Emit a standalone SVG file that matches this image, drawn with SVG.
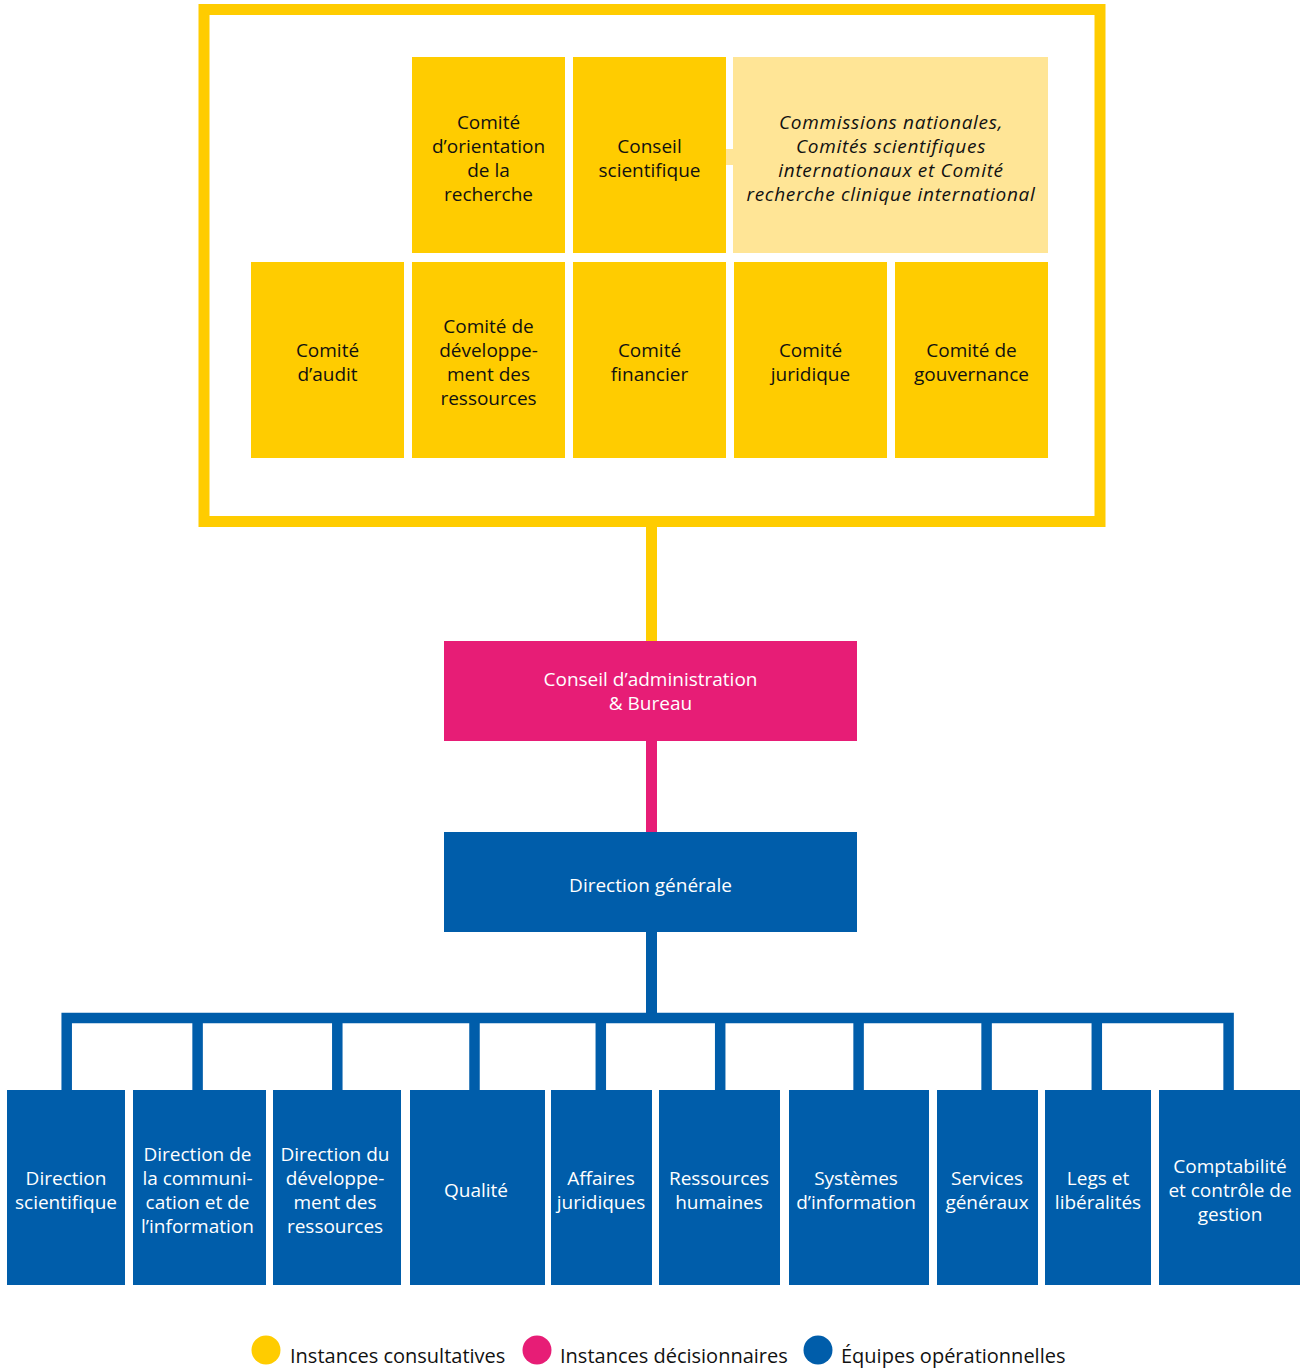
<svg xmlns="http://www.w3.org/2000/svg" width="1302" height="1368" viewBox="0 0 1302 1368">
<style>
text{font-family:"Open Sans","Noto Sans","Liberation Sans",sans-serif;font-size:19px;text-anchor:middle}
.y{fill:#FFCC00}
.ly{fill:#FFE596}
.pk{fill:#E71D76}
.bl{fill:#005DAA}
.dk{fill:#111111}
.wt{fill:#FFFFFF}
.it{font-style:italic;letter-spacing:0.7px}
.ln{fill:none;stroke-linecap:butt;stroke-linejoin:miter}
.lg{text-anchor:start;font-size:20px}
</style>
<rect width="1302" height="1368" fill="#FFFFFF"/>
<g id="connectors">
<rect x="204" y="9.5" width="896" height="512" fill="none" stroke="#FFCC00" stroke-width="11"/>
<rect x="726" y="149" width="8" height="16" class="ly"/>
<path class="ln" d="M651.5 527V641" stroke="#FFCC00" stroke-width="11"/>
<path class="ln" d="M651.5 741V832" stroke="#E71D76" stroke-width="11"/>
<path class="ln" d="M651.5 932V1018" stroke="#005DAA" stroke-width="11"/>
<path class="ln" d="M66.7 1090V1018H1228.6V1090" stroke="#005DAA" stroke-width="10.5"/>
<path class="ln" d="M197.6 1018V1090M337.3 1018V1090M474.5 1018V1090M600.8 1018V1090M720.2 1018V1090M858.6 1018V1090M986.6 1018V1090M1096.8 1018V1090" stroke="#005DAA" stroke-width="10.5"/>
</g>
<g id="n-orientation"><rect x="412" y="57" width="153" height="196" class="y"/><text class="dk"><tspan x="488.5" y="128.5">Comité</tspan><tspan x="488.5" y="152.5">d’orientation</tspan><tspan x="488.5" y="176.5">de la</tspan><tspan x="488.5" y="200.5">recherche</tspan></text></g>
<g id="n-conseil-scientifique"><rect x="573" y="57" width="153" height="196" class="y"/><text class="dk"><tspan x="649.5" y="152.5">Conseil</tspan><tspan x="649.5" y="176.5">scientifique</tspan></text></g>
<g id="n-commissions"><rect x="733" y="57" width="315" height="196" class="ly"/><text class="dk it"><tspan x="891" y="128.5">Commissions nationales,</tspan><tspan x="891" y="152.5">Comités scientifiques</tspan><tspan x="891" y="176.5">internationaux et Comité</tspan><tspan x="891" y="200.5">recherche clinique international</tspan></text></g>
<g id="n-audit"><rect x="251" y="262" width="153" height="196" class="y"/><text class="dk"><tspan x="327.5" y="356.5">Comité</tspan><tspan x="327.5" y="380.5">d’audit</tspan></text></g>
<g id="n-developpement"><rect x="412" y="262" width="153" height="196" class="y"/><text class="dk"><tspan x="488.5" y="332.5">Comité de</tspan><tspan x="488.5" y="356.5">développe-</tspan><tspan x="488.5" y="380.5">ment des</tspan><tspan x="488.5" y="404.5">ressources</tspan></text></g>
<g id="n-financier"><rect x="573" y="262" width="153" height="196" class="y"/><text class="dk"><tspan x="649.5" y="356.5">Comité</tspan><tspan x="649.5" y="380.5">financier</tspan></text></g>
<g id="n-juridique"><rect x="734" y="262" width="153" height="196" class="y"/><text class="dk"><tspan x="810.5" y="356.5">Comité</tspan><tspan x="810.5" y="380.5">juridique</tspan></text></g>
<g id="n-gouvernance"><rect x="895" y="262" width="153" height="196" class="y"/><text class="dk"><tspan x="971.5" y="356.5">Comité de</tspan><tspan x="971.5" y="380.5">gouvernance</tspan></text></g>
<g id="n-ca"><rect x="444" y="641" width="413" height="100" class="pk"/><text class="wt"><tspan x="650.5" y="686">Conseil d’administration</tspan><tspan x="650.5" y="710">&amp; Bureau</tspan></text></g>
<g id="n-dg"><rect x="444" y="832" width="413" height="100" class="bl"/><text class="wt"><tspan x="650.5" y="891.5">Direction générale</tspan></text></g>
<g id="n-dir-sci"><rect x="7" y="1090" width="118" height="195" class="bl"/><text class="wt"><tspan x="66" y="1184.5">Direction</tspan><tspan x="66" y="1208.5">scientifique</tspan></text></g>
<g id="n-dir-com"><rect x="133" y="1090" width="133" height="195" class="bl"/><text class="wt"><tspan x="197.5" y="1160.5">Direction de</tspan><tspan x="197.5" y="1184.5">la communi-</tspan><tspan x="197.5" y="1208.5">cation et de</tspan><tspan x="197.5" y="1232.5">l’information</tspan></text></g>
<g id="n-dir-dev"><rect x="273" y="1090" width="128" height="195" class="bl"/><text class="wt"><tspan x="335" y="1160.5">Direction du</tspan><tspan x="335" y="1184.5">développe-</tspan><tspan x="335" y="1208.5">ment des</tspan><tspan x="335" y="1232.5">ressources</tspan></text></g>
<g id="n-qualite"><rect x="410" y="1090" width="135" height="195" class="bl"/><text class="wt"><tspan x="476" y="1196.5">Qualité</tspan></text></g>
<g id="n-affaires"><rect x="551" y="1090" width="101" height="195" class="bl"/><text class="wt"><tspan x="601" y="1184.5">Affaires</tspan><tspan x="601" y="1208.5">juridiques</tspan></text></g>
<g id="n-rh"><rect x="659" y="1090" width="121" height="195" class="bl"/><text class="wt"><tspan x="719" y="1184.5">Ressources</tspan><tspan x="719" y="1208.5">humaines</tspan></text></g>
<g id="n-si"><rect x="789" y="1090" width="140" height="195" class="bl"/><text class="wt"><tspan x="856" y="1184.5">Systèmes</tspan><tspan x="856" y="1208.5">d’information</tspan></text></g>
<g id="n-sg"><rect x="937" y="1090" width="101" height="195" class="bl"/><text class="wt"><tspan x="987" y="1184.5">Services</tspan><tspan x="987" y="1208.5">généraux</tspan></text></g>
<g id="n-legs"><rect x="1045" y="1090" width="106" height="195" class="bl"/><text class="wt"><tspan x="1098" y="1184.5">Legs et</tspan><tspan x="1098" y="1208.5">libéralités</tspan></text></g>
<g id="n-compta"><rect x="1159" y="1090" width="141" height="195" class="bl"/><text class="wt"><tspan x="1230" y="1172.5">Comptabilité</tspan><tspan x="1230" y="1196.5">et contrôle de</tspan><tspan x="1230" y="1220.5">gestion</tspan></text></g>
<g id="legend">
<circle cx="266" cy="1350" r="14.5" class="y"/>
<text x="290" y="1363" class="dk lg">Instances consultatives</text>
<circle cx="537" cy="1350" r="14.5" class="pk"/>
<text x="560" y="1363" class="dk lg">Instances décisionnaires</text>
<circle cx="818" cy="1350" r="14.5" class="bl"/>
<text x="841" y="1363" class="dk lg">Équipes opérationnelles</text>
</g>
</svg>
